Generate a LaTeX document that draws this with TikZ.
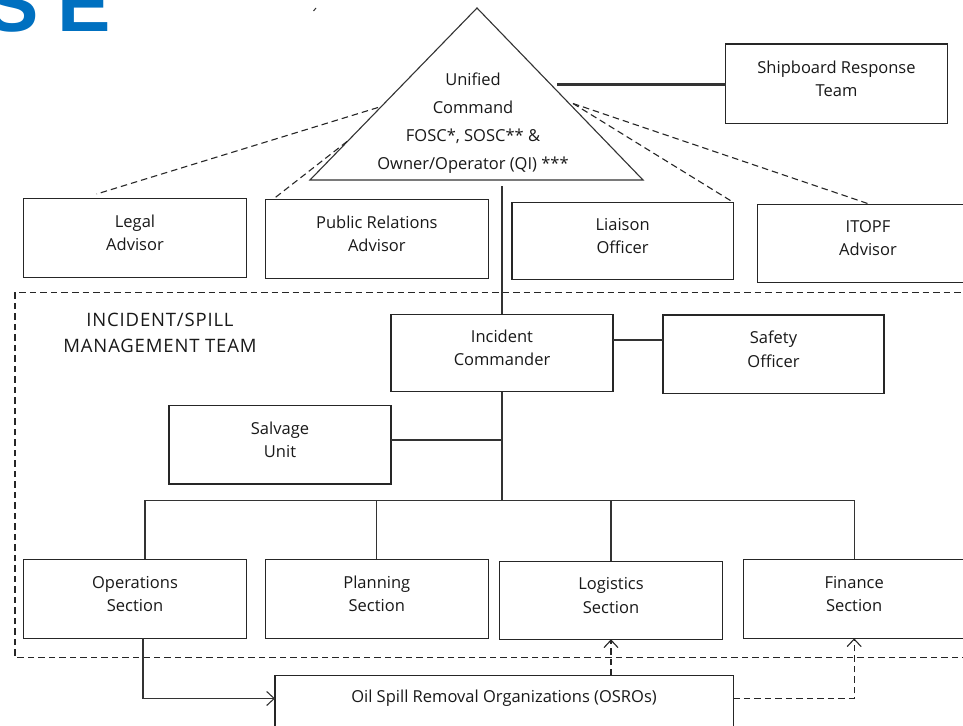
\documentclass[tikz,border=0pt]{standalone}
\usepackage{fontspec}
\setmainfont{Open Sans}
\newfontfamily\blfont{Liberation Sans}
\usetikzlibrary{arrows.meta}
\definecolor{seblue}{RGB}{0,112,192}
\newcommand\obox[6]{%
  \node[box,minimum width={#4pt-#2pt},minimum height={#5pt-#3pt}] (#1) at ({(#2+#4)/2},{(#3+#5)/2}) {};
  \node[txt] (#1t) at ([yshift=5pt]#1.center) {#6};}
\begin{document}
\begin{tikzpicture}[x=1pt,y=-1pt,
  box/.style={draw=black!85,line width=1.1pt,rectangle,inner sep=0pt,outer sep=0pt},
  txt/.style={align=center,font=\fontsize{16.5}{23.5}\selectfont,inner sep=0pt,text=black!90},
  conn/.style={draw=black!80,line width=1.1pt},
  dsh/.style={draw=black!85,line width=1.1pt,dash pattern=on 6.5pt off 4pt},
  tip/.style={-{Straight Barb[length=7.5pt,width=14pt,line width=1.1pt]}}]
\clip (0,0) rectangle (963,725);
\fill[white] (0,0) rectangle (963,725);
% logo fragment
\node[font=\blfont\bfseries\fontsize{80}{80}\selectfont,text=seblue,anchor=base east,inner sep=0pt] (seS) at (39,32) {S};
\node[font=\blfont\bfseries\fontsize{80}{80}\selectfont,text=seblue,anchor=base west,inner sep=0pt] (seE) at (57,32) {E};
\draw[black!80,line width=1pt] (313.5,11) -- (316,8);
% triangle
\coordinate (apex) at (477,8);
\coordinate (bl) at (310,180);
\coordinate (br) at (643,180);
\draw[conn,line join=miter] (apex) -- (br) -- (bl) -- cycle;
\node[txt,font=\fontsize{16.5}{27.8}\selectfont] (uc) at (473,123) {Unified\\Command\\FOSC*, SOSC** \&\\Owner/Operator (QI) ***};
\coordinate (ucL1) at (378,107.5);
\coordinate (ucL2) at (347,141.5);
\coordinate (ucR) at (573,103.5);
\coordinate (ucTh) at (557,84.3);
\coordinate (ucB) at (502,186);
% boxes
\obox{ship}{725.7}{44}{947.3}{123.3}{Shipboard Response\\Team}
\obox{legal}{23.3}{198.3}{246.7}{277.3}{Legal\\Advisor}
\obox{pr}{265.3}{199.3}{488.3}{278.7}{Public Relations\\Advisor}
\obox{liaison}{512}{202.3}{733.3}{279.3}{Liaison\\Officer}
\obox{itopf}{757.7}{204.3}{978.3}{282.3}{ITOPF\\Advisor}
% management team frame
\draw[dsh] (1000,657.7) -| (15,292.7) -- (1000,292.7);
\node[txt,font=\fontsize{18.5}{25.7}\selectfont\addfontfeature{LetterSpace=4.5}] (imtl) at (160,333) {INCIDENT/SPILL\\MANAGEMENT TEAM};
\obox{ic}{391}{314.3}{613}{391.7}{Incident\\Commander}
\obox{safety}{663}{315}{884}{393.7}{Safety\\Officer}
\obox{salv}{169}{405.7}{391}{484}{Salvage\\Unit}
\obox{ops}{23.3}{559.3}{246.7}{638.3}{Operations\\Section}
\obox{plan}{265.3}{559.3}{488.3}{638.3}{Planning\\Section}
\obox{logi}{499.3}{561.3}{722.7}{639.3}{Logistics\\Section}
\obox{fin}{743.3}{559.3}{965}{638.3}{Finance\\Section}
\node[box,minimum width=458.3pt,minimum height=84.3pt] (osro) at (504.15,717.85) {};
\node[txt] (osrot) at (504,698.5) {Oil Spill Removal Organizations (OSROs)};
% connectors from unified command
\draw[conn,line width=3.6pt] (ucTh) -- (ucTh -| ship.west);
\draw[dsh] (ucL1) -- ([xshift=73.4pt,yshift=4.3pt]legal.north west);
\draw[dsh] (ucL2) -- ([xshift=7.7pt]pr.north west);
\draw[dsh] (ucR) -- (liaison.north east);
\draw[dsh] (ucR) -- ([xshift=2pt]itopf.north);
\draw[conn] (ucB) -- (ic.north);
% incident team tree
\coordinate (sl) at (0,340);
\coordinate (sv) at (0,440);
\coordinate (bus) at (502,500.7);
\draw[conn] (ic.east |- sl) -- (safety.west |- sl);
\draw[conn] (ic.south) -- (bus);
\draw[conn] (salv.east |- sv) -- (ic.south |- sv);
\draw[conn] ([xshift=10pt]ops.north) |- (fin.north |- bus) -- (fin.north);
\draw[conn] (plan.north) -- (plan.north |- bus);
\draw[conn] (logi.north) -- (logi.north |- bus);
% OSRO links
\draw[conn,tip] ([xshift=8pt]ops.south) |- (osrot -| osro.west);
\draw[dsh,tip] (logi.south |- osro.north) -- (logi.south);
\draw[dsh,tip] (osrot -| osro.east) -| (fin.south);
\end{tikzpicture}
\end{document}
